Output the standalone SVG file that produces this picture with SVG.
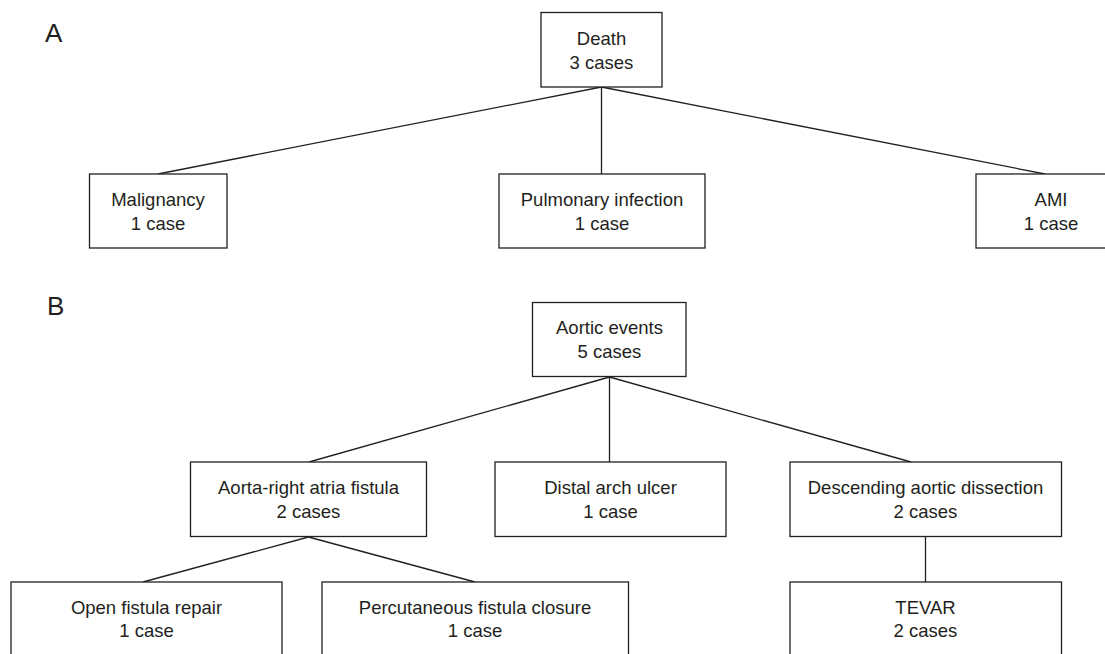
<svg xmlns="http://www.w3.org/2000/svg" width="1105" height="654" viewBox="0 0 1105 654">
<style>
.box{fill:#fff;stroke:#231f20;stroke-width:1.3}
.t{font-family:"Liberation Sans",Arial,sans-serif;font-size:18.5px;fill:#231f20;text-anchor:middle}
.lbl{font-family:"Liberation Sans",Arial,sans-serif;font-size:26px;fill:#231f20}
.c line{stroke:#231f20;stroke-width:1.3}
</style>
<rect width="1105" height="654" fill="#fff"/>
<text class="lbl" x="45" y="42">A</text>
<text class="lbl" x="47" y="315">B</text>
<g class="c" id="connectors">
<line x1="601.5" y1="87" x2="158" y2="174"/>
<line x1="601.5" y1="87" x2="601.5" y2="174"/>
<line x1="601.5" y1="87" x2="1045" y2="174"/>
<line x1="609.5" y1="377" x2="309" y2="462"/>
<line x1="609.5" y1="377" x2="609.5" y2="462"/>
<line x1="609.5" y1="377" x2="911" y2="462"/>
<line x1="308.5" y1="537" x2="143" y2="582"/>
<line x1="308.5" y1="537" x2="475" y2="582"/>
<line x1="925.5" y1="537" x2="925.5" y2="582"/>
</g>
<g id="death"><rect class="box" x="541" y="12.5" width="121" height="74.5"/><text class="t" x="601.5" y="44.5">Death</text><text class="t" x="601.5" y="68.5">3 cases</text></g>
<g id="malignancy"><rect class="box" x="89.5" y="174" width="137.5" height="74"/><text class="t" x="158" y="206">Malignancy</text><text class="t" x="158" y="230">1 case</text></g>
<g id="pulmonary"><rect class="box" x="499" y="174" width="206" height="74"/><text class="t" x="602" y="206">Pulmonary infection</text><text class="t" x="602" y="230">1 case</text></g>
<g id="ami"><rect class="box" x="976" y="174" width="135" height="74"/><text class="t" x="1051" y="206">AMI</text><text class="t" x="1051" y="230">1 case</text></g>
<g id="aortic"><rect class="box" x="532.5" y="302.5" width="153.5" height="74"/><text class="t" x="609.5" y="333.5">Aortic events</text><text class="t" x="609.5" y="357.5">5 cases</text></g>
<g id="fistula"><rect class="box" x="190.5" y="462" width="236" height="74.5"/><text class="t" x="308.5" y="494">Aorta-right atria fistula</text><text class="t" x="308.5" y="518">2 cases</text></g>
<g id="ulcer"><rect class="box" x="495" y="462" width="231" height="74.5"/><text class="t" x="610.5" y="494">Distal arch ulcer</text><text class="t" x="610.5" y="518">1 case</text></g>
<g id="dissection"><rect class="box" x="790" y="462" width="271.5" height="74.5"/><text class="t" x="925.5" y="494">Descending aortic dissection</text><text class="t" x="925.5" y="518">2 cases</text></g>
<g id="open"><rect class="box" x="11" y="582" width="271" height="90"/><text class="t" x="146.5" y="613.5">Open fistula repair</text><text class="t" x="146.5" y="637">1 case</text></g>
<g id="percutaneous"><rect class="box" x="322" y="582" width="306.5" height="90"/><text class="t" x="475" y="613.5">Percutaneous fistula closure</text><text class="t" x="475" y="637">1 case</text></g>
<g id="tevar"><rect class="box" x="790" y="582" width="271.5" height="90"/><text class="t" x="925.5" y="613.5">TEVAR</text><text class="t" x="925.5" y="637">2 cases</text></g>
</svg>
